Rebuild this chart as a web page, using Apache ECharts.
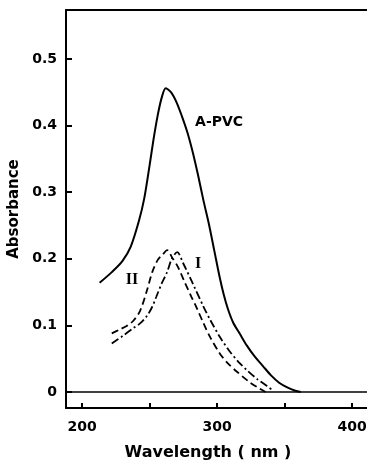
<!DOCTYPE html>
<html><head><meta charset="utf-8">
<script src="https://cdn.jsdelivr.net/npm/echarts@6/dist/echarts.min.js"></script>
<style>html,body{margin:0;padding:0;background:#fff}#c{width:367px;height:464px}</style>
</head><body><div id="c"></div>
<script>
const xTicks = [200, 250, 300, 350, 400];
const xLabels = [200, 300, 400];
const yTicks = [0, 0.1, 0.2, 0.3, 0.4, 0.5];

const pvcWl  = [213, 222, 230, 236, 242, 246, 250, 253, 256, 259, 262, 266, 270, 274, 278, 282, 286, 290, 294, 298, 302, 305, 308, 312, 317, 322, 328, 334, 340, 346, 352, 358, 362];
const pvcAbs = [0.164, 0.180, 0.197, 0.218, 0.256, 0.290, 0.340, 0.380, 0.415, 0.442, 0.456, 0.450, 0.435, 0.414, 0.390, 0.360, 0.325, 0.287, 0.252, 0.212, 0.172, 0.146, 0.125, 0.104, 0.087, 0.070, 0.053, 0.039, 0.025, 0.014, 0.007, 0.002, 0.000];

const iiWl  = [222, 228, 233, 238, 243, 248, 252, 256, 260, 263, 267, 271, 276, 281, 285, 290, 295, 302, 308, 315, 324, 330, 336];
const iiAbs = [0.088, 0.094, 0.099, 0.107, 0.122, 0.152, 0.180, 0.198, 0.207, 0.213, 0.201, 0.188, 0.165, 0.143, 0.126, 0.103, 0.082, 0.058, 0.043, 0.030, 0.015, 0.007, 0.000];

const iWl  = [222, 230, 238, 243, 248, 252, 255, 259, 263, 266.5, 270.5, 275, 282, 290, 295, 302, 309, 316, 322, 330, 337, 341];
const iAbs = [0.073, 0.084, 0.096, 0.103, 0.114, 0.128, 0.143, 0.163, 0.180, 0.200, 0.210, 0.193, 0.163, 0.128, 0.108, 0.083, 0.062, 0.045, 0.033, 0.019, 0.009, 0.003];

const curveLabels = [
  {text: 'A-PVC', wl: 301.5, abs: 0.405},
  {text: 'II', wl: 237, abs: 0.168},
  {text: 'I', wl: 286, abs: 0.192}
];

const zip = (a, b) => a.map((v, i) => [v, b[i]]);
const font = 'DejaVu Sans';
const xMin = 188.1, xMax = 411.1;

const chart = echarts.init(document.getElementById('c'), null, {renderer: 'canvas'});

function lbl(item, serif) {
  return {
    coord: [item.wl, item.abs], symbol: 'circle', symbolSize: 0,
    label: {
      show: true, position: 'inside', formatter: item.text, color: '#000',
      fontFamily: serif ? 'Liberation Serif' : font, fontWeight: 'bold',
      fontSize: serif ? 16 : 14
    }
  };
}

chart.setOption({
  animation: false,
  backgroundColor: '#fff',
  grid: {left: 66, top: 10, right: 0, bottom: 56, containLabel: false, outerBoundsMode: 'none'},
  xAxis: [{
    type: 'value', min: xMin, max: xMax,
    axisLine: {show: true, onZero: false, lineStyle: {color: '#000', width: 2}},
    splitLine: {show: false},
    axisTick: {show: true, inside: true, length: 5, customValues: xTicks, lineStyle: {color: '#000', width: 2}},
    axisLabel: {customValues: xLabels, color: '#000', fontFamily: font, fontWeight: 'bold', fontSize: 14, margin: 12},
    name: 'Wavelength ( nm )', nameLocation: 'middle', nameGap: 37,
    nameTextStyle: {color: '#000', fontFamily: font, fontWeight: 'bold', fontSize: 16, padding: [0, 17, 0, 0]}
  }, {
    type: 'value', position: 'top', min: xMin, max: xMax,
    axisLine: {show: true, onZero: false, lineStyle: {color: '#000', width: 2}},
    splitLine: {show: false}, axisTick: {show: false}, axisLabel: {show: false}
  }],
  yAxis: {
    type: 'value', min: -0.024, max: 0.5736,
    axisLine: {show: true, onZero: false, lineStyle: {color: '#000', width: 2}},
    splitLine: {show: false},
    axisTick: {show: true, inside: true, length: 6, customValues: yTicks, lineStyle: {color: '#000', width: 2}},
    axisLabel: {customValues: yTicks, color: '#000', fontFamily: font, fontWeight: 'bold', fontSize: 14, margin: 9,
      formatter: v => (Math.abs(v) < 1e-9 ? '0' : v.toFixed(1))},
    name: 'Absorbance', nameLocation: 'middle', nameGap: 43, nameRotate: 90,
    nameTextStyle: {color: '#000', fontFamily: font, fontWeight: 'bold', fontSize: 15}
  },
  series: [
    {
      type: 'line', data: zip(pvcWl, pvcAbs), symbol: 'none', smooth: 0.3,
      lineStyle: {color: '#000', width: 2, type: 'solid'},
      markLine: {silent: true, symbol: ['none', 'none'], label: {show: false},
        lineStyle: {color: '#000', width: 1.5, type: 'solid'}, data: [{yAxis: 0}]},
      markPoint: {silent: true, data: [lbl(curveLabels[0], false)]}
    },
    {
      type: 'line', data: zip(iiWl, iiAbs), symbol: 'none', smooth: 0.3,
      lineStyle: {color: '#000', width: 1.8, type: [7, 4]},
      markPoint: {silent: true, data: [lbl(curveLabels[1], true)]}
    },
    {
      type: 'line', data: zip(iWl, iAbs), symbol: 'none', smooth: 0.3,
      lineStyle: {color: '#000', width: 1.8, type: [8, 3, 2, 3]},
      markPoint: {silent: true, data: [lbl(curveLabels[2], true)]}
    }
  ]
});
</script>
</body></html>
